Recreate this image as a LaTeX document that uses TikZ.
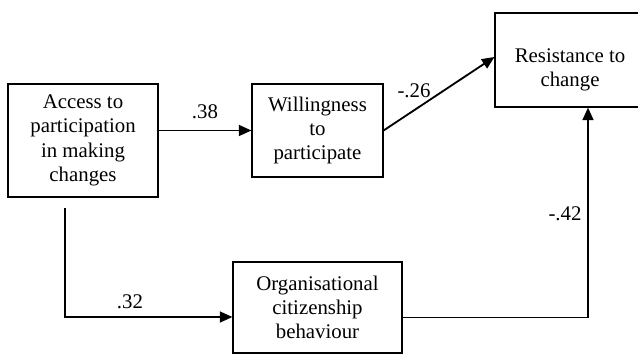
\documentclass[tikz,border=0pt]{standalone}
\usepackage{fontspec}
\setmainfont{Liberation Serif}
\usetikzlibrary{arrows.meta}

\tikzset{
  box/.style={draw,line width=0.7pt,inner sep=0pt,align=center},
  conn/.style={line width=1.1pt,-{Triangle[length=7.5pt,width=6.5pt]}},
  coef/.style={inner sep=1pt}
}

\begin{document}
\begin{tikzpicture}[x=0.6pt,y=-0.6pt,font=\fontsize{12.5}{14.6}\selectfont]
\useasboundingbox (0,0) rectangle (638,356);

% boxes
\node[box,minimum width=90pt,minimum height=67.8pt] (acc) at (83,140.5)
  {Access to\\participation\\in making\\changes};
\node[box,minimum width=78.6pt,minimum height=55.8pt] (will) at (317.5,130.5)
  {Willingness\\to\\participate};
\node[box,minimum width=96pt,minimum height=56.4pt] (res) at (575,60) {};
\node[align=center] (restxt) at (570,70) {Resistance to\\change};
\node[box,minimum width=101.4pt,minimum height=54.6pt] (ocb) at (317.5,307.5)
  {Organisational\\citizenship\\behaviour};

% paths
\draw[conn] (acc.east |- will.west) -- (will.west);
\draw[conn] (will.east) -- ([yshift=1.8pt]res.west);
\draw[conn] ([xshift=-10.8pt,yshift=-6pt]acc.south) |- ([yshift=-5.7pt]ocb.west);
\draw[conn] ([yshift=-6pt]ocb.east) -| ([xshift=7.8pt]res.south);

% coefficients
\node[coef] (c1) at (205,112) {.38};
\node[coef] (c2) at (414,91) {-.26};
\node[coef] (c3) at (130,302) {.32};
\node[coef] (c4) at (565,214) {-.42};

\end{tikzpicture}
\end{document}
